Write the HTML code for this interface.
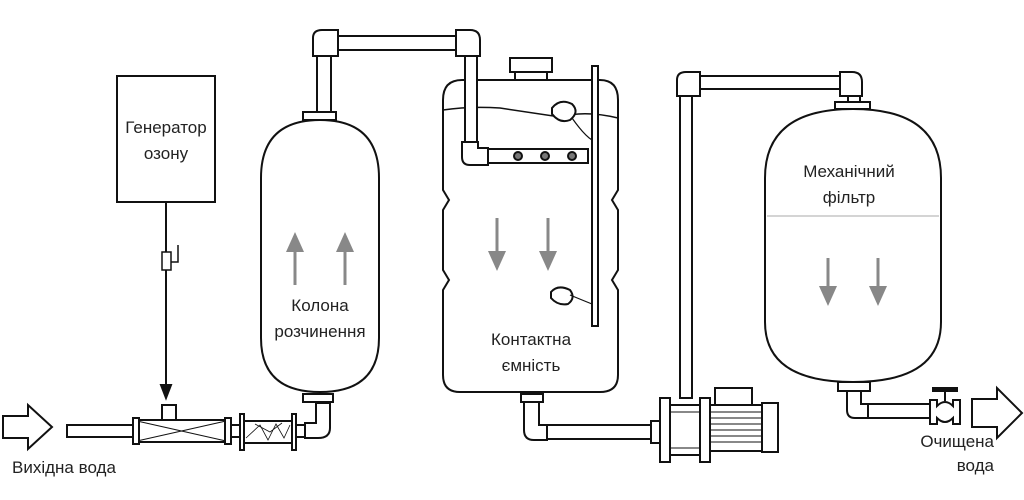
<!DOCTYPE html>
<html><head><meta charset="utf-8"><style>
html,body{margin:0;padding:0;background:#fff;}
svg{display:block;}
text{font-family:"Liberation Sans","DejaVu Sans",sans-serif;font-size:17px;fill:#222;}
</style></head><body>
<svg width="1024" height="500" viewBox="0 0 1024 500" xmlns="http://www.w3.org/2000/svg">
<g fill="#fff" stroke="#111" stroke-width="2">
<rect x="117" y="76" width="98" height="126"/>
<line x1="166" y1="202" x2="166" y2="385"/>
<polygon points="161,385 171,385 166,398" fill="#111"/>
<rect x="162" y="252" width="9" height="18" stroke-width="1.5"/>
<path d="M171,262 H178 V245" fill="none" stroke-width="1.5"/>
<polygon points="3,416 28,416 28,405 52,427 28,449 28,438 3,438"/>
<rect x="67" y="425" width="68" height="12"/>
<rect x="162" y="405" width="14" height="16"/>
<rect x="133" y="420" width="97" height="22"/>
<path d="M137,421 L226,441 M137,441 L226,421" stroke-width="1"/>
<rect x="133" y="418" width="6" height="26"/>
<rect x="225" y="418" width="6" height="26"/>
<rect x="231" y="425" width="10" height="12"/>
<rect x="243" y="421" width="50" height="22"/>
<path d="M246,438 L260,425 L268,440 L276,424 L284,438 L290,425 M255,424 L270,432 L282,423" fill="none" stroke-width="0.8"/>
<rect x="240" y="414" width="4" height="36"/>
<rect x="292" y="414" width="4" height="36"/>
<rect x="296" y="425" width="10" height="12"/>
<path d="M305,423 H316 V403 H330 V428 Q330,438 318,438 H305 Z"/>
<rect x="303" y="394" width="30" height="8"/>
<path d="M261,178 Q261,120 320,120 Q379,120 379,178 V338 Q379,392 320,392 Q261,392 261,338 Z"/>
<rect x="303" y="112" width="33" height="8"/>
<rect x="317" y="50" width="14" height="62"/>
<path d="M313,56 V38 Q313,30 322,30 H338 V56 Z"/>
<rect x="338" y="36" width="118" height="14"/>
<path d="M456,30 H470 Q480,30 480,40 V56 H456 Z"/>
<path d="M462,80 H600 Q618,80 618,100 V190 L612,200 L618,210 V270 L612,280 L618,290 V375 Q618,392 600,392 H460 Q443,392 443,375 V290 L449,280 L443,270 V210 L449,200 L443,190 V100 Q443,80 462,80 Z"/>
<rect x="510" y="58" width="42" height="14"/>
<rect x="515" y="72" width="32" height="8"/>
<path d="M443,110 Q470,106 500,108 Q540,114 560,117 Q585,110 618,118" fill="none" stroke-width="1.5"/>
<rect x="465" y="56" width="12" height="86"/>
<path d="M462,142 H478 V148 H488 V165 H470 Q462,165 462,157 Z"/>
<rect x="488" y="149" width="100" height="14"/>
<circle cx="518" cy="156" r="4" fill="#777"/>
<circle cx="545" cy="156" r="4" fill="#777"/>
<circle cx="572" cy="156" r="4" fill="#777"/>
<rect x="592" y="66" width="6" height="260"/>
<path d="M552,108 Q560,98 572,104 Q580,112 570,120 Q560,124 552,114 Z"/>
<path d="M572,118 Q584,135 592,140" fill="none" stroke-width="1.2"/>
<path d="M551,292 Q558,284 570,290 Q576,298 568,304 Q558,306 551,298 Z"/>
<path d="M570,295 Q582,300 592,304" fill="none" stroke-width="1.2"/>
<rect x="521" y="394" width="22" height="8"/>
<path d="M524,402 H539 V425 H547 V440 H534 Q524,440 524,430 Z"/>
<rect x="547" y="425" width="104" height="14"/>
<rect x="651" y="421" width="9" height="22"/>
<rect x="660" y="398" width="10" height="64"/>
<rect x="670" y="405" width="30" height="50"/>
<rect x="700" y="398" width="10" height="64"/>
<rect x="715" y="388" width="37" height="17"/>
<rect x="710" y="405" width="52" height="46"/>
<g stroke-width="1"><line x1="710" y1="412" x2="762" y2="412"/><line x1="710" y1="418" x2="762" y2="418"/><line x1="710" y1="424" x2="762" y2="424"/><line x1="710" y1="430" x2="762" y2="430"/><line x1="710" y1="436" x2="762" y2="436"/><line x1="710" y1="442" x2="762" y2="442"/><line x1="670" y1="412" x2="700" y2="412"/><line x1="670" y1="448" x2="700" y2="448"/></g>
<rect x="762" y="403" width="16" height="49"/>
<rect x="680" y="90" width="12" height="308"/>
<path d="M677,96 V80 Q677,72 686,72 H700 V96 Z"/>
<rect x="700" y="76" width="140" height="13"/>
<path d="M840,72 H852 Q862,72 862,82 V96 H840 Z"/>
<rect x="848" y="96" width="12" height="6"/>
<rect x="835" y="102" width="35" height="7"/>
<path d="M765,178 Q765,109 853,109 Q941,109 941,178 V322 Q941,382 853,382 Q765,382 765,322 Z"/>
<line x1="767" y1="216" x2="939" y2="216" stroke="#bbb" stroke-width="1.2"/>
<rect x="838" y="382" width="32" height="9"/>
<path d="M847,391 H861 V404 H868 V418 H855 Q847,418 847,410 Z"/>
<rect x="868" y="404" width="62" height="14"/>
<path d="M930,400 H937 V406 Q945,398 953,406 V400 H960 V424 H953 V418 Q945,426 937,418 V424 H930 Z"/>
<line x1="945" y1="401" x2="945" y2="390"/>
<rect x="933" y="388" width="24" height="3" fill="#111"/>
<polygon points="972,399 997,399 997,388 1022,413 997,438 997,427 972,427"/>
</g>
<g fill="#888" stroke="#888" stroke-width="3">
<line x1="295" y1="285" x2="295" y2="248"/><polygon points="286,252 304,252 295,232" stroke="none"/>
<line x1="345" y1="285" x2="345" y2="248"/><polygon points="336,252 354,252 345,232" stroke="none"/>
<line x1="497" y1="218" x2="497" y2="255"/><polygon points="488,251 506,251 497,271" stroke="none"/>
<line x1="548" y1="218" x2="548" y2="255"/><polygon points="539,251 557,251 548,271" stroke="none"/>
<line x1="828" y1="258" x2="828" y2="290"/><polygon points="819,286 837,286 828,306" stroke="none"/>
<line x1="878" y1="258" x2="878" y2="290"/><polygon points="869,286 887,286 878,306" stroke="none"/>
</g>
<text x="166" y="133" text-anchor="middle">Генератор</text>
<text x="166" y="159" text-anchor="middle">озону</text>
<text x="320" y="311" text-anchor="middle">Колона</text>
<text x="320" y="337" text-anchor="middle">розчинення</text>
<text x="531" y="345" text-anchor="middle">Контактна</text>
<text x="531" y="371" text-anchor="middle">ємність</text>
<text x="849" y="177" text-anchor="middle">Механічний</text>
<text x="849" y="203" text-anchor="middle">фільтр</text>
<text x="12" y="473">Вихідна вода</text>
<text x="994" y="447" text-anchor="end">Очищена</text>
<text x="994" y="471" text-anchor="end">вода</text>
</svg>
</body></html>
